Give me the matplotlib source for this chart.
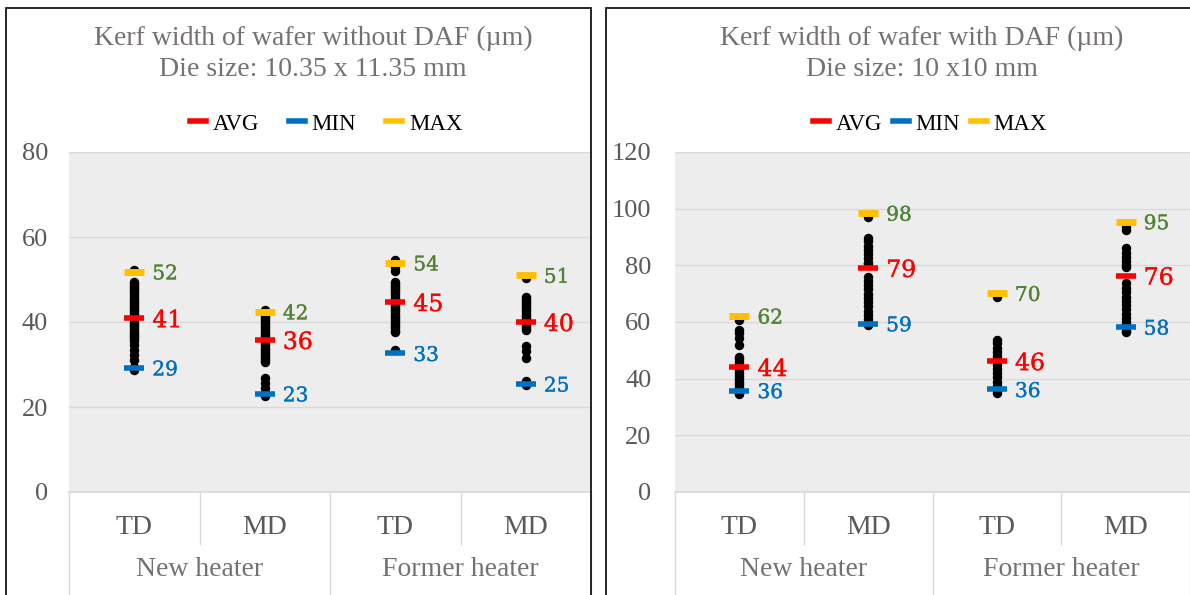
import matplotlib
matplotlib.use("Agg")
import matplotlib.pyplot as plt
import matplotlib.patheffects as pe
from matplotlib.lines import Line2D
from matplotlib.patches import Rectangle
from matplotlib.transforms import blended_transform_factory

# ---------------- data ----------------
categories = ["TD", "MD", "TD", "MD"]
groups = ["New heater", "Former heater"]
series_names = ["AVG", "MIN", "MAX"]

left_title = "Kerf width of wafer without DAF (\u00b5m)\nDie size: 10.35 x 11.35 mm"
left_avg = [40.9, 35.8, 44.7, 40.0]
left_min = [29.2, 23.1, 32.6, 25.4]
left_max = [51.8, 42.4, 53.9, 51.0]
left_dots_td_new = [52.3, 49.5, 49, 48.5, 48, 47.5, 47, 46.5, 46, 45.5, 45, 44.5, 44, 43.5, 43,
                    42.5, 42, 41.5, 41, 40.5, 40, 39.5, 39, 38.5, 38, 37.5, 37, 36.5, 36, 35.5,
                    34.6, 33.4, 32.2, 31, 29.5, 28.6]
left_dots_md_new = [42.8, 41.4, 41, 40.5, 40, 39.5, 39, 38.5, 38, 37.5, 37, 36.5, 36, 35.5, 35,
                    34.5, 34, 33.5, 33, 32.5, 32, 31.5, 31, 30.5, 26.8, 25.6, 24.5, 23.4, 22.6]
left_dots_td_former = [54.6, 53, 52, 49.4, 49, 48.5, 48, 47.5, 47, 46.5, 46, 45.5, 45, 44.5, 44,
                       43.5, 43, 42.5, 42, 41.5, 41, 40.5, 40, 39.5, 39, 38.5, 38, 37.7, 33.3]
left_dots_md_former = [50.4, 45.8, 45.5, 45, 44.5, 44, 43.5, 43, 42.5, 42, 41.5, 41, 40.5, 40,
                       39.5, 39, 38.5, 38.2, 34.3, 33.1, 31.6, 26.2, 25.2]
left_dots = [left_dots_td_new, left_dots_md_new, left_dots_td_former, left_dots_md_former]
left_yticks = [0, 20, 40, 60, 80]

right_title = "Kerf width of wafer with DAF (\u00b5m)\nDie size: 10 x10 mm"
right_avg = [44.1, 79.1, 46.2, 76.4]
right_min = [35.8, 59.4, 36.2, 58.2]
right_max = [62.1, 98.4, 70.1, 95.4]
right_dots_td_new = [60.8, 57.2, 56.1, 54.4, 51.9, 47.7, 47, 46, 45, 44, 43, 42, 41, 40, 39,
                     38, 37, 36, 35, 34.6]
right_dots_md_new = [97.1, 89.7, 88.5, 87, 85.5, 84, 82.5, 81, 80.9, 75.9, 74.5, 73, 71.5, 70,
                     68.5, 67, 65.5, 64, 62.5, 61, 59.5, 58.9]
right_dots_td_former = [68.8, 53.7, 52.5, 51, 49.5, 48, 46.5, 45, 43.5, 42, 40.5, 39, 37.5, 36,
                        34.9]
right_dots_md_former = [93.5, 92.5, 86.1, 84.5, 83, 81.5, 80, 79.5, 73.7, 72, 70.5, 69, 67.5, 66,
                        64.5, 63, 61.5, 60, 58.5, 57, 56.6]
right_dots = [right_dots_td_new, right_dots_md_new, right_dots_td_former, right_dots_md_former]
right_yticks = [0, 20, 40, 60, 80, 100, 120]

# ---------------- style ----------------
W, H = 1190, 595
C_AVG, C_MIN, C_MAX = "#FF0000", "#0070C0", "#FFC000"
C_MAXLBL = "#548235"
GRID = "#D9D9D9"
BG = "#EDEDED"
SERIF = ["Liberation Serif", "DejaVu Serif"]
LBL_FONT = ["DejaVu Serif"]

fig = plt.figure(figsize=(W / 100, H / 100), dpi=100)


def px_rect(x0, y0, x1, y1):
    return [x0 / W, 1 - y1 / H, (x1 - x0) / W, (y1 - y0) / H]


def data_label(ax, x, v, color, size):
    ax.annotate(f"{v:.0f}", (x, v), xytext=(13, 0), textcoords="offset points",
                ha="left", va="center_baseline", color=color, fontsize=size, family=LBL_FONT,
                path_effects=[pe.withStroke(linewidth=0.25, foreground=color)])


def draw_panel(ax, title, title_x, avg, mn, mx, dots, yticks, legend_x, colspace, ypad):
    ax.set_facecolor(BG)
    xs = [i + 0.5 for i in range(len(categories))]
    for x, d in zip(xs, dots):
        ax.plot([x] * len(d), d, linestyle="none", marker="o", ms=5.8, color="black", zorder=3)
    ax.plot(xs, mx, linestyle="none", marker="_", ms=15, mew=5, color=C_MAX, zorder=4)
    ax.plot(xs, mn, linestyle="none", marker="_", ms=14, mew=4, color=C_MIN, zorder=4)
    ax.plot(xs, avg, linestyle="none", marker="_", ms=15, mew=4, color=C_AVG, zorder=5)
    for x, v in zip(xs, mx):
        data_label(ax, x, v, C_MAXLBL, 14.5)
    for x, v in zip(xs, mn):
        data_label(ax, x, v, C_MIN, 14.5)
    for x, v in zip(xs, avg):
        data_label(ax, x, v, C_AVG, 17)

    ax.set_xlim(0, len(categories))
    ax.set_ylim(yticks[0], yticks[-1])
    ax.set_yticks(yticks)
    ax.yaxis.grid(True, color=GRID, lw=1)
    ax.set_axisbelow(True)
    ax.tick_params(axis="y", length=0, pad=ypad, labelsize=19, labelcolor="#595959")
    for lab in ax.get_yticklabels():
        lab.set_family(SERIF)
    for s in ax.spines.values():
        s.set_visible(False)
    ax.axhline(yticks[0], color=GRID, lw=1.2, zorder=1, clip_on=False)

    # category axis separators
    ax.set_xticks([0, 2, 4])
    ax.set_xticks([1, 3], minor=True)
    ax.tick_params(axis="x", which="major", length=80, width=1, color=GRID, direction="out",
                   labelbottom=False)
    ax.tick_params(axis="x", which="minor", length=38, width=1, color=GRID, direction="out",
                   labelbottom=False)

    tr = blended_transform_factory(ax.transData, ax.transAxes)
    for x, c in zip(xs, categories):
        ax.text(x, -0.103, c, transform=tr, ha="center", va="center", fontsize=20,
                color="#595959", family=SERIF)
    for gi, g in enumerate(groups):
        ax.text(gi * 2 + 1, -0.228, g, transform=tr, ha="center", va="center", fontsize=20,
                color="#757171", family=SERIF)

    fig.text(title_x / W, 1 - 54 / H, title, ha="center", va="center", fontsize=20,
             color="#757171", family=SERIF, linespacing=1.35)

    handles = [Line2D([], [], color=c, lw=4) for c in (C_AVG, C_MIN, C_MAX)]
    fig.legend(handles, series_names, loc="center", bbox_to_anchor=(legend_x / W, 1 - 124 / H),
               ncol=3, frameon=False, handlelength=0.7, handletextpad=0.3,
               columnspacing=colspace, prop={"family": SERIF, "size": 16.5})


axL = fig.add_axes(px_rect(69, 152, 591, 492))
draw_panel(axL, left_title, 313, left_avg, left_min, left_max, left_dots, left_yticks, 326, 1.3, 15)
axR = fig.add_axes(px_rect(675, 152, 1190, 492))
draw_panel(axR, right_title, 922, right_avg, right_min, right_max, right_dots, right_yticks, 930, 0.45, 17)

# panel borders
for (x0, x1) in [(6, 591), (606, 1240)]:
    fig.patches.append(Rectangle((x0 / W, -0.1), (x1 - x0) / W, 1.1 - 8 / H,
                                 transform=fig.transFigure, fill=False, ec="black", lw=1.2,
                                 zorder=10))

fig.savefig("out.png", dpi=100)
